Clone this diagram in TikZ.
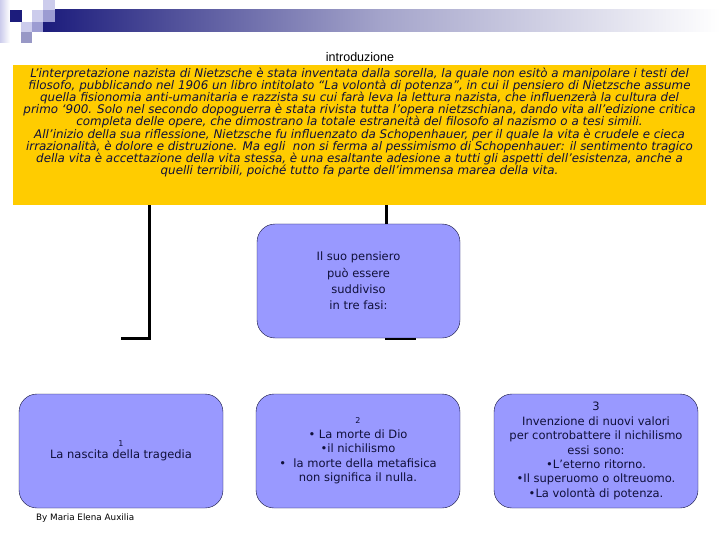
\documentclass[tikz,border=0pt]{standalone}
\usepackage{fontspec}
\setmainfont{DejaVu Sans}
\newfontfamily\titlefont{Liberation Sans}
\usetikzlibrary{positioning}
\definecolor{giallo}{HTML}{FFCC00}
\definecolor{fase}{HTML}{9999FF}
\definecolor{navy}{HTML}{1C1C7C}
\definecolor{lilla}{HTML}{CCCCEC}
\definecolor{lillascuro}{HTML}{9C9CD2}
\definecolor{testoblu}{HTML}{10103A}
\newcommand\numpiccolo{\fontsize{8}{10}\selectfont}

\begin{document}
\begin{tikzpicture}[x=1pt,y=-1pt,
  fasebox/.style={draw=testoblu, fill=fase, rounded corners=18pt,
    minimum width=204pt, minimum height=114pt, inner sep=0pt,
    align=center, text=testoblu, font=\fontsize{11.5}{14.4}\selectfont},
  link/.style={line width=3pt}]
  \useasboundingbox (0,0) rectangle (720,540);
  % header band with the little squares
  \shade[left color=navy, right color=white, middle color=navy!40!white] (43,10) rectangle (720,32);
  \shade[left color=lilla, right color=white] (0,0) rectangle (10,43);
  \fill[navy] (10,10) rectangle (22,22);
  \fill[lilla] (43,0) rectangle (55,10);
  \fill[lilla] (32,10) rectangle (43,22);
  \fill[lillascuro] (43,10) rectangle (55,22);
  \fill[lilla] (21,22) rectangle (32,32);
  \fill[lillascuro] (32,22) rectangle (43,32);
  \fill[lillascuro!85!gray] (21,32) rectangle (32,43);

  \node[font=\titlefont\fontsize{12.5}{14}\selectfont] (titolo) at (360,57) {introduzione};
  \node[fill=giallo, minimum width=693pt, minimum height=140pt, inner sep=0pt] (intro) at (359.5,135) {};
  \node[below=3pt of intro.north, align=center, inner sep=0pt,
    font=\itshape\fontsize{11.9}{12.1}\selectfont, text=testoblu] (introtesto) {%
    L’interpretazione nazista di Nietzsche è stata inventata dalla sorella, la quale non esitò a manipolare i testi del\\
    filosofo, pubblicando nel 1906 un libro intitolato “La volontà di potenza”, in cui il pensiero di Nietzsche assume\\
    quella fisionomia anti-umanitaria e razzista su cui farà leva la lettura nazista, che influenzerà la cultura del\\
    primo ‘900. Solo nel secondo dopoguerra è stata rivista tutta l’opera nietzschiana, dando vita all’edizione critica\\
    completa delle opere, che dimostrano la totale estraneità del filosofo al nazismo o a tesi simili.\\
    All’inizio della sua riflessione, Nietzsche fu influenzato da Schopenhauer, per il quale la vita è crudele e cieca\\
    irrazionalità, è dolore e distruzione. Ma egli \ non si ferma al pessimismo di Schopenhauer: il sentimento tragico\\
    della vita è accettazione della vita stessa, è una esaltante adesione a tutti gli aspetti dell’esistenza, anche a\\
    quelli terribili, poiché tutto fa parte dell’immensa marea della vita.};

  \coordinate (gomito) at (149,338);
  \coordinate (capo) at (121,338);
  \draw[link] (gomito |- intro.south) -- (gomito) -- (capo);

  \node[fasebox, minimum width=203pt, font=\fontsize{11.5}{16.3}\selectfont] (pensiero) at (358.5,281)
    {Il suo pensiero\\può essere\\suddiviso\\in tre fasi:};
  \draw[link] ([xshift=27.5pt]pensiero.north) -- ([xshift=27.5pt]pensiero.north |- intro.south);
  \draw[line width=2pt] ([xshift=26.5pt,yshift=-0.5pt]pensiero.south) -- ([xshift=57.5pt,yshift=-0.5pt]pensiero.south);

  \node[fasebox] (fase1) at (121,451)
    {{\numpiccolo 1}\\[-2pt]La nascita della tragedia};
  \node[fasebox] (fase2) at (358,451)
    {{\numpiccolo 2}\\• La morte di Dio\\•il nichilismo\\•\ \ la morte della metafisica\\non significa il nulla.};
  \node[fasebox] (fase3) at (596,451)
    {3\\Invenzione di nuovi valori\\per controbattere il nichilismo\\essi sono:\\•L’eterno ritorno.\\•Il superuomo o oltreuomo.\\•La volontà di potenza.};

  \node[anchor=west, font=\fontsize{8.8}{10}\selectfont, inner sep=0pt] (firma) at (36,518) {By Maria Elena Auxilia};
\end{tikzpicture}
\end{document}
